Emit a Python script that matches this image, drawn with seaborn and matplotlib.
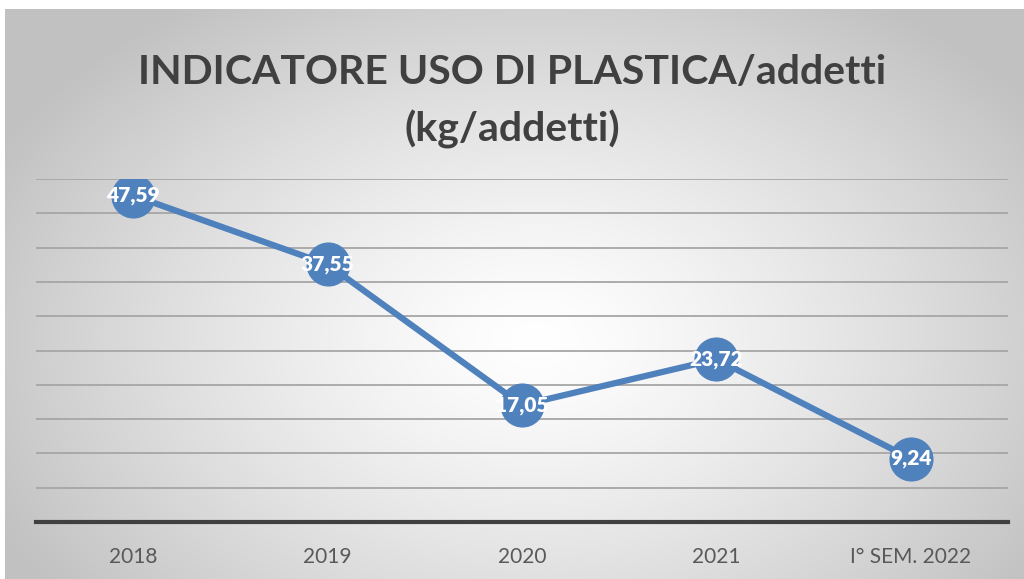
import numpy as np
import pandas as pd
import matplotlib.pyplot as plt
import seaborn as sns

# data
periodi = ['2018', '2019', '2020', '2021', 'I° SEM. 2022']
valori = [47.59, 37.55, 17.05, 23.72, 9.24]
etichette = ['47,59', '37,55', '17,05', '23,72', '9,24']

df = pd.DataFrame({'periodo': periodi, 'valore': valori})

sns.set_style('white')
plt.rcParams['font.family'] = ['Lato', 'DejaVu Sans']

fig = plt.figure(figsize=(10.24, 5.79), dpi=100)
fig.patch.set_facecolor('white')

# radial gradient background
bg = fig.add_axes([5 / 1024, 0, 1 - 5 / 1024, 1 - 9 / 579])
bg.set_axis_off()
yy, xx = np.mgrid[0:570, 0:1019]
d = np.sqrt(((xx - 530) / 620) ** 2 + ((yy - 330) / 420) ** 2)
shade = np.clip(1 - 0.25 * d ** 1.3, 0.76, 1)
bg.imshow(np.dstack([shade] * 3), aspect='auto', extent=[0, 1, 0, 1])
bg.set_xlim(0, 1)
bg.set_ylim(0, 1)

ax = fig.add_axes([36 / 1024, 1 - 522 / 579, (1008 - 36) / 1024, (522 - 179) / 579])
ax.patch.set_alpha(0)

blu = '#4f81bd'
sns.lineplot(data=df, x='periodo', y='valore', ax=ax, color=blu, linewidth=4.5,
             marker='o', markersize=31, markeredgecolor=blu, sort=False)

for i, (v, t) in enumerate(zip(valori, etichette)):
    ax.text(i, v, t, ha='center', va='center', color='white', fontsize=15,
            fontweight='heavy')

ax.set_xlim(-0.5, len(periodi) - 0.5)
ax.set_ylim(0, 50)
ax.set_yticks(np.arange(0, 51, 5))
ax.set_yticklabels([])
ax.tick_params(axis='y', length=0)
ax.tick_params(axis='x', length=0, pad=18, labelsize=15, labelcolor='#595959')
ax.grid(axis='y', color='#a6a6a6', linewidth=1.3)
ax.set_axisbelow(True)
for s in ['top', 'right', 'left']:
    ax.spines[s].set_visible(False)
ax.spines['bottom'].set_color('#404040')
ax.spines['bottom'].set_linewidth(3)
ax.set_xlabel('')
ax.set_ylabel('')

fig.text(0.5, 1 - 72 / 579, 'INDICATORE USO DI PLASTICA/addetti', ha='center', va='center',
         fontsize=29.5, fontweight='bold', color='#404040')
fig.text(0.5, 1 - 129 / 579, '(kg/addetti)', ha='center', va='center',
         fontsize=29.5, fontweight='bold', color='#404040')

plt.savefig('out.png', dpi=100)
